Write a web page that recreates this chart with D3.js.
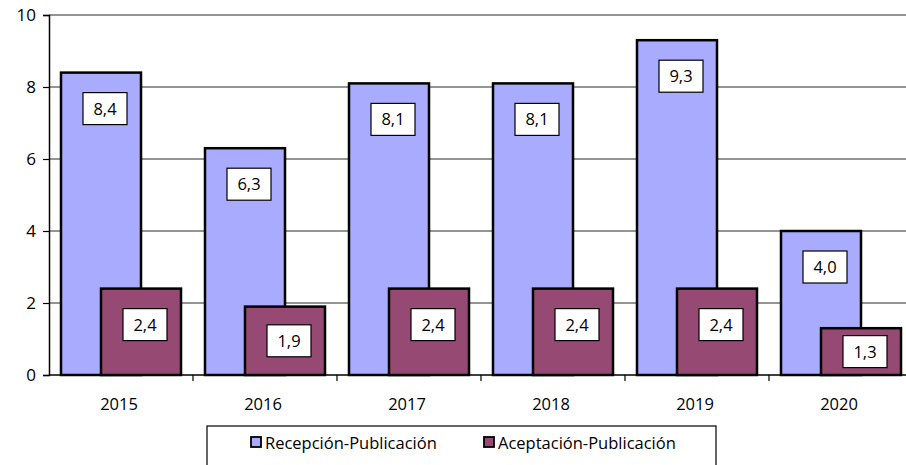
<!DOCTYPE html>
<html>
<head>
<meta charset="utf-8">
<script src="https://cdn.jsdelivr.net/npm/d3@7"></script>
<style>
  body { margin: 0; background: #fff; }
  svg { display: block; font-family: "Open Sans", sans-serif; }
</style>
</head>
<body>
<div id="chart"></div>
<script>
const years = ['2015', '2016', '2017', '2018', '2019', '2020'];
const recepcion = [8.4, 6.3, 8.1, 8.1, 9.3, 4.0];
const aceptacion = [2.4, 1.9, 2.4, 2.4, 2.4, 1.3];
const seriesNames = ['Recepción-Publicación', 'Aceptación-Publicación'];
const yTicks = [0, 2, 4, 6, 8, 10];

const width = 906, height = 465;
const colors = ['#a9abff', '#964a73'];

const svg = d3.select('#chart').append('svg')
  .attr('width', width)
  .attr('height', height);

// plot area, the last band runs a bit past the window edge
const x = d3.scaleBand().domain(years).range([49, 913]);
const y = d3.scaleLinear().domain([0, 10]).range([375, 15]);

const barW = 80, shift = 40, pad = 12;

// grid
svg.append('g').selectAll('line')
  .data(yTicks.filter(d => d > 0))
  .enter().append('line')
  .attr('x1', 49).attr('x2', width)
  .attr('y1', d => y(d)).attr('y2', d => y(d))
  .attr('stroke', '#707070').attr('stroke-width', 1.3);

// y axis
const yAxis = svg.append('g')
  .attr('transform', 'translate(49,0)')
  .call(d3.axisLeft(y).tickValues(yTicks).tickSize(6).tickFormat(d3.format('d')));
yAxis.select('.domain').attr('stroke', '#000').attr('stroke-width', 1.5);
yAxis.selectAll('.tick line').attr('stroke', '#000').attr('stroke-width', 1.2);
yAxis.selectAll('.tick text').attr('font-size', 17).attr('x', -13).attr('fill', '#000')
  .style('font-family', '"Open Sans", sans-serif');

const series = [recepcion, aceptacion];

series.forEach((vals, s) => {
  const g = svg.append('g');
  g.selectAll('rect')
    .data(vals)
    .enter().append('rect')
    .attr('x', (d, i) => x(years[i]) + pad + s * shift)
    .attr('y', d => y(d))
    .attr('width', barW)
    .attr('height', d => y(0) - y(d))
    .attr('fill', colors[s])
    .attr('stroke', '#000')
    .attr('stroke-width', 2.5);
});

// value labels
series.forEach((vals, s) => {
  const g = svg.append('g');
  vals.forEach((v, i) => {
    const top = y(v), h = y(0) - y(v);
    const cy = top + Math.min(h / 2, 36);
    const cx = x(years[i]) + pad + s * shift + barW / 2 + 4;
    g.append('rect')
      .attr('x', cx - 22).attr('y', cy - 16)
      .attr('width', 44).attr('height', 32)
      .attr('fill', '#fff').attr('stroke', '#000').attr('stroke-width', 1.2);
    g.append('text')
      .attr('x', cx).attr('y', cy + 6)
      .attr('text-anchor', 'middle')
      .attr('font-size', 16.5)
      .text(d3.format('.1f')(v).replace('.', ','));
  });
});

// x axis
svg.append('line')
  .attr('x1', 49).attr('x2', width)
  .attr('y1', y(0)).attr('y2', y(0))
  .attr('stroke', '#000').attr('stroke-width', 1.5);
svg.append('g').selectAll('line')
  .data(years.slice(1))
  .enter().append('line')
  .attr('x1', d => x(d)).attr('x2', d => x(d))
  .attr('y1', y(0)).attr('y2', y(0) + 6)
  .attr('stroke', '#000').attr('stroke-width', 1.2);
svg.append('g').selectAll('text')
  .data(years)
  .enter().append('text')
  .attr('x', d => x(d) + x.bandwidth() / 2 - 2)
  .attr('y', 410)
  .attr('text-anchor', 'middle')
  .attr('font-size', 16.5)
  .text(d => d);

// legend
const leg = svg.append('g');
leg.append('rect')
  .attr('x', 207).attr('y', 426).attr('width', 509).attr('height', 50)
  .attr('fill', '#fff').attr('stroke', '#000').attr('stroke-width', 1.2);
const legX = [251, 484];
seriesNames.forEach((name, s) => {
  leg.append('rect')
    .attr('x', legX[s]).attr('y', 437).attr('width', 10).attr('height', 10)
    .attr('fill', colors[s]).attr('stroke', '#000').attr('stroke-width', 1.8);
  leg.append('text')
    .attr('x', legX[s] + 14).attr('y', 449)
    .attr('font-size', 16.5)
    .text(name);
});
</script>
</body>
</html>
